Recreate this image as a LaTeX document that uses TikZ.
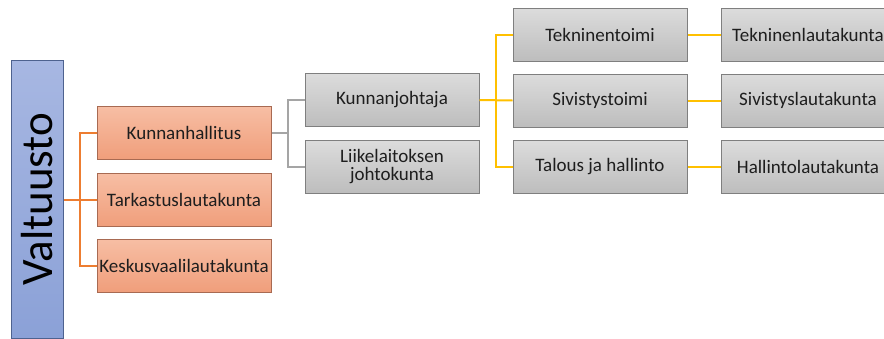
\documentclass[tikz,border=0pt]{standalone}
\usepackage{fontspec}
\setmainfont{Carlito}
\usetikzlibrary{positioning}
\definecolor{oTop}{HTML}{F7BEA4}
\definecolor{oBot}{HTML}{F09E7B}
\definecolor{oEdge}{HTML}{A86A52}
\definecolor{gTop}{HTML}{DCDCDC}
\definecolor{gBot}{HTML}{BDBDBD}
\definecolor{gEdge}{HTML}{7F7F7F}
\definecolor{bTop}{HTML}{A7B7E2}
\definecolor{bBot}{HTML}{8BA1D7}
\definecolor{bEdge}{HTML}{4E628F}
\definecolor{lnOrange}{HTML}{ED7D31}
\definecolor{lnGray}{HTML}{A5A5A5}
\definecolor{lnYellow}{HTML}{FFC000}
\definecolor{txt}{HTML}{1E1E1E}
\tikzset{
  unitbox/.style={draw, line width=1pt, minimum width=174pt, minimum height=53pt,
    inner sep=0pt, align=center, text=txt, font=\fontsize{19}{21}\selectfont},
  obox/.style={unitbox, draw=oEdge, top color=oTop, bottom color=oBot},
  gbox/.style={unitbox, draw=gEdge, top color=gTop, bottom color=gBot},
  vbox/.style={draw=bEdge, line width=1pt, top color=bTop, bottom color=bBot,
    minimum width=52pt, minimum height=278pt, inner sep=0pt},
  oline/.style={draw=lnOrange, line width=2pt},
  gline/.style={draw=lnGray, line width=2pt},
  yline/.style={draw=lnYellow, line width=2pt},
}
\begin{document}
\begin{tikzpicture}[x=1pt,y=-1pt]
\useasboundingbox (0,0) rectangle (884,338);
\clip (0,0) rectangle (884,338);
% council column
\node[vbox] (val) at (37,199) {\rotatebox{90}{\fontsize{45}{47}\selectfont Valtuusto}};
% boards under the council
\node[obox] (kh) at (184,133) {Kunnanhallitus};
\node[obox] (ta) at (184,200) {Tarkastuslautakunta};
\node[obox] (kv) at (184,265.5) {Keskusvaalilautakunta};
% executive level
\node[gbox] (kj) at (392,100) {Kunnanjohtaja};
\node[gbox] (lj) at (392,166.5) {Liikelaitoksen\\[-3pt]johtokunta};
% departments
\node[gbox] (tt) at (600,34.5) {Tekninentoimi};
\node[gbox] (st) at (600,100.5) {Sivistystoimi};
\node[gbox] (th) at (600,166.5) {Talous ja hallinto};
% committees
\node[gbox] (tl) at (808,34.5) {Tekninenlautakunta};
\node[gbox] (sl) at (808,100.5) {Sivistyslautakunta};
\node[gbox] (hl) at (808,166.5) {Hallintolautakunta};
% connectors
\coordinate (ob) at (80,200);
\coordinate (gb) at (288,133);
\coordinate (yb) at (496,100);
\draw[oline] (kh.west) -| (ob) |- (kv.west);
\draw[oline] (val.east |- ta.west) -- (ta.west);
\draw[gline] (kj.west) -| (gb) |- (lj.west);
\draw[gline] (kh.east) -- (gb);
\draw[yline] (tt.west) -| (yb) |- (th.west);
\draw[yline] (kj.east) -- (st.west);
\draw[yline] (tt.east) -- (tl.west);
\draw[yline] (st.east) -- (sl.west);
\draw[yline] (th.east) -- (hl.west);
\end{tikzpicture}
\end{document}
